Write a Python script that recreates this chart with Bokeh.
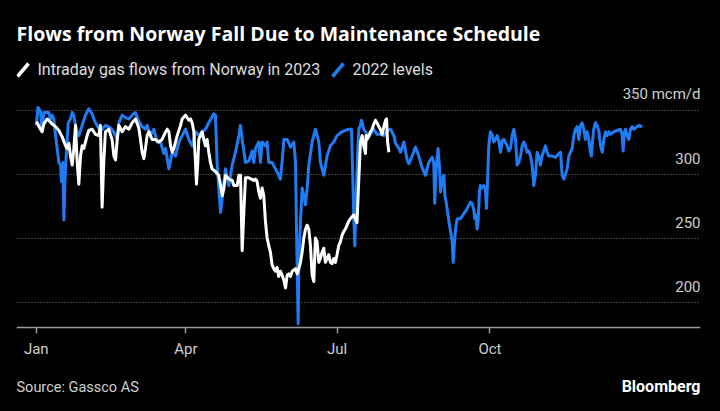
from bokeh.plotting import figure
from bokeh.models import Range1d, FixedTicker, Label, GlobalInlineStyleSheet
from bokeh.embed import file_html
from bokeh.resources import INLINE

# ---- data (day of year, mcm/d) ----
days_2022 = [0, 1, 2.5, 3.5, 4.5, 7.5, 8.5, 9.5, 10.5, 11.6, 13.6, 14.6, 15.2, 16, 16.6, 17.2, 18, 19.2,
             20.6, 21.6, 22.6, 23.6, 24.6, 25.6, 27.6, 29.6, 31.6, 33.6, 34.6, 35.6, 36.6, 38.6, 39.6,
             41.6, 43.6, 45.6, 47.7, 48.7, 49.7, 51.7, 53.7, 55.7, 57.7, 59.7, 61.7, 63.7, 65.7, 66.7,
             68.7, 70.7, 72.7, 74.7, 76.8, 77.8, 79.8, 81.8, 83.8, 85.8, 87.8, 89.8, 91.8, 93.8, 95.8,
             97.8, 99.8, 101.8, 103.8, 106.8, 107.8, 108.8, 109.8, 110.9, 111.9, 112.9, 113.9, 115.9,
             117.9, 119.9, 121.9, 122.9, 123.9, 125.9, 127.9, 129.9, 130.9, 131.9, 133.9, 134.9, 135.9,
             137.9, 138.9, 139.9, 141.9, 143.9, 145.9, 146.9, 147.9, 149, 151, 153, 155, 156, 156.6,
             157.6, 158, 159, 160, 161, 162, 163, 164, 166, 168, 170, 171, 173, 175, 177, 179, 181, 184,
             188, 189.7, 190.5, 191.1, 191.7, 192.5, 193.5, 194.1, 195.1, 195.7, 197.1, 200.1, 203.1,
             205.1, 207.1, 209.2, 211.2, 213.2, 215.2, 216.2, 218.2, 219.2, 221.2, 223.2, 224.2, 226.2,
             228.2, 230.2, 232.2, 234.2, 236.2, 238.2, 239.2, 239.8, 240.6, 241.8, 242.7, 243.3, 244.3,
             245.3, 245.9, 246.7, 248.3, 249.3, 250.3, 250.9, 251.7, 252.3, 253.3, 255.3, 257.3, 259.3,
             261.3, 262.3, 263.3, 263.9, 264.7, 265.3, 265.9, 266.7, 267.3, 268.3, 269.3, 270.3, 270.9,
             271.5, 272.3, 273.3, 274.3, 275.4, 276.4, 277.4, 278.4, 279.4, 280.4, 281.4, 283.4, 284.4,
             285.4, 286.4, 287.4, 288.4, 289.4, 290.4, 291.4, 292.4, 293.4, 294.4, 295.4, 296.4, 297.4,
             298.4, 299.4, 300.4, 301.4, 302.4, 303.4, 304.4, 306.4, 307.4, 308.4, 310.5, 312.5, 314.5,
             315.5, 316.5, 317.5, 319.5, 320.5, 322.5, 323.5, 324.5, 325.5, 326.5, 327.5, 328.5, 329.5,
             330.5, 331.5, 332.5, 333.5, 334.1, 334.7, 335.5, 336.5, 337.5, 338.6, 339.6, 340.6, 341.6,
             342.6, 343.6, 344.6, 345.6, 347.6, 349.6, 351.6, 352.6, 353.2, 354, 354.6, 355.6, 356.6,
             357.6, 358.6, 359.6, 361.6, 362.6, 363.6, 364.6]
flows_2022 = [338, 352, 349, 333, 348, 348, 343, 346, 343, 330, 309, 307, 294, 309, 264, 294, 314, 340,
              343, 348, 346, 338, 333, 330, 338, 346, 351, 347, 343, 340, 338, 333, 335,
              338, 337, 335, 330, 327, 340, 346, 344, 343, 346, 348, 341, 337, 335, 338,
              330, 335, 325, 325, 316, 320, 304, 317, 314, 325, 330, 335, 327, 322, 333,
              330, 333, 335, 340, 347, 346, 309, 289, 270, 281, 294, 304, 291,
              307, 317, 330, 338, 327, 309, 310, 318, 309, 320, 325, 309, 325,
              322, 325, 309, 309, 304, 299, 296, 309, 327, 327, 321, 325, 309, 257,
              183, 231, 263, 289, 283, 276, 289, 307, 325, 335, 325, 309, 299, 314, 322, 325, 330, 333,
              335, 335, 296, 265, 244, 283, 320, 335, 338, 342, 335, 329, 335,
              331, 331, 330, 334, 335, 330, 324, 320, 317, 325, 311, 308, 314,
              321, 314, 305, 299, 309, 313, 309, 277, 304, 320, 304, 286, 296,
              299, 283, 278, 263, 255, 247, 231, 247, 257, 265, 265, 269, 273,
              278, 277, 272, 265, 268, 257, 263, 286, 291, 289, 291, 289, 273,
              291, 322, 333, 331, 325, 327, 330, 325, 317, 326, 327, 322, 318,
              320, 330, 335, 327, 307, 309, 314, 322, 325, 322, 317, 318, 314,
              307, 291, 299, 317, 314, 307, 314, 322, 317, 314, 314, 313, 316,
              317, 299, 296, 304, 314, 320, 330, 335, 337, 327, 338, 340, 335,
              327, 333, 327, 317, 314, 325, 335, 340, 338, 333, 322, 317, 327,
              333, 330, 333, 331, 333, 334, 335, 330, 318, 333, 335, 330, 327,
              335, 337, 335, 337, 338, 337, 338]

days_2023 = [0, 0.5, 2.5, 3.5, 4.5, 6.5, 7.5, 9.5, 11.6, 13.6, 15.6, 17.6, 18.6, 19.6, 20.6, 21.6, 22.6,
             23.6, 24.6, 25.6, 26.6, 27.6, 28.6, 29.6, 30.6, 31.6, 33.6, 35.6, 37.6, 38.6, 39.6, 40.6,
             41.6, 43.6, 45.6, 46.7, 47.7, 48.7, 49.7, 51.7, 53.7, 55.7, 57.7, 59.7, 61.7, 62.7, 63.7,
             64.7, 65.7, 66.7, 67.7, 69.7, 71.7, 73.7, 75.7, 77.8, 78.8, 79.8, 80.8, 81.8, 82.8, 84.8,
             86.8, 87.8, 89.8, 91.8, 92.8, 93.8, 94.8, 95.8, 96.4, 97.2, 97.8, 99.8, 100.8, 101.8, 102.8,
             103.8, 104.8, 105.8, 107.8, 109.8, 110.9, 111.9, 112.9, 113.9, 115.9, 117.9, 118.9, 120.9,
             121.9, 122.9, 123.9, 124.9, 125.9, 127.9, 130.9, 131.9, 132.9, 133.9, 134.9, 135.9, 136.9,
             137.9, 138.9, 139.9, 140.9, 141.9, 142.9, 143.9, 144.9, 145.9, 146.9, 147.9, 149, 150, 151,
             152, 153, 154, 155, 156, 157, 158, 159, 160, 161, 162, 163, 164, 165, 166, 167, 168, 169,
             170, 171, 172, 173, 174, 175, 176, 177, 178, 179, 180, 181, 182, 183, 184, 185, 186, 188,
             189, 191, 193, 194.1, 195.1, 196.1, 197.1, 198.1, 198.5, 199.1, 200.1, 201.1, 202.1, 203.1,
             204.1, 205.1, 206.1, 207.1, 208.1, 209.2, 210.2, 210.8, 211.4, 212.2]
flows_2023 = [339, 340, 335, 333, 339, 343, 342, 339, 337, 334, 329, 322, 320, 324, 314, 307, 320,
              338, 309, 292, 314, 322, 320, 325, 330, 334, 335, 331, 330, 338, 274, 309,
              333, 335, 327, 314, 311, 327, 338, 333, 337, 335, 340, 343, 336, 327, 317,
              312, 320, 330, 333, 327, 327, 325, 327, 333, 335, 333, 322, 317, 320, 330,
              338, 343, 346, 342, 343, 340, 333, 309, 292, 309, 327, 333, 327, 322, 327,
              317, 309, 304, 302, 299, 291, 283, 289, 299, 296, 295, 291, 291,
              299, 299, 240, 270, 297, 297, 295, 296, 294, 286, 281, 289, 283,
              263, 250, 244, 239, 229, 226, 224, 227, 220, 224, 221, 217, 211, 221,
              222, 220, 224, 225, 226, 222, 226, 231, 239, 250, 257, 260, 257, 244, 221, 216, 250, 247,
              231, 234, 239, 242, 231, 234, 237, 231, 230, 234, 231, 237, 244, 247, 252, 255, 257, 263,
              265, 268, 262, 296, 325, 330, 322, 316, 330, 327, 330, 333, 335, 339,
              342, 340, 337, 335, 331, 337, 342, 343, 325, 317]

month_ticks = [0, 90, 181, 273]
month_labels = ["Jan", "Apr", "Jul", "Oct"]
y_ticks = [200, 250, 300, 350]
y_unit = "mcm/d"

title_text = "Flows from Norway Fall Due to Maintenance Schedule"
legend_labels = ["Intraday gas flows from Norway in 2023", "2022 levels"]
source_text = "Source: Gassco AS"
brand_text = "Bloomberg"

BLUE = "#1f7cf4"
WHITE = "#ffffff"
GREY_TEXT = "#cfcfcf"
FONT = "Roboto"

W, H = 720, 411
FL, FR = 16, 700            # frame left / right in page pixels
X_PER_PX = 1 / 1.6616       # days per pixel
JAN_PX = 35.8               # pixel of day 0
Y_PER_PX = 1 / 1.28         # mcm/d per pixel
Y350_PX = 109.5             # pixel of 350 gridline
AXIS_PX = 327.3

def px_x(px):
    return (px - JAN_PX) * X_PER_PX

def px_y(py):
    return 350 - (py - Y350_PX) * Y_PER_PX

X0, X1 = px_x(FL), px_x(FR)
Y0, Y1 = px_y(H), px_y(0)

p = figure(width=W, height=H, output_backend="svg", toolbar_location=None,
           x_range=Range1d(X0, X1), y_range=Range1d(Y0, Y1), title=None,
           min_border_left=FL, min_border_right=W - FR, min_border_top=0, min_border_bottom=0,
           background_fill_color="black", border_fill_color="black", outline_line_color=None)
p.stylesheets = [GlobalInlineStyleSheet(css="html, body { background: #000000; overflow: hidden; }")]

# grid
p.yaxis.visible = False
p.yaxis.ticker = FixedTicker(ticks=y_ticks)
p.ygrid.ticker = FixedTicker(ticks=y_ticks)
p.ygrid.grid_line_color = "#7a7a7a"
p.ygrid.grid_line_dash = "1 2"
p.ygrid.grid_line_width = 1
p.xgrid.visible = False

# x axis, fixed inside the frame
p.xaxis.fixed_location = px_y(AXIS_PX)
p.xaxis.ticker = FixedTicker(ticks=month_ticks)
p.xaxis.major_label_overrides = dict(zip(month_ticks, month_labels))
p.xaxis.axis_line_color = "#9a9a9a"
p.xaxis.axis_line_width = 1.5
p.xaxis.major_tick_line_color = "#9a9a9a"
p.xaxis.major_tick_line_width = 1.5
p.xaxis.major_tick_out = 6
p.xaxis.major_tick_in = 0
p.xaxis.minor_tick_line_color = None
p.xaxis.major_label_text_color = GREY_TEXT
p.xaxis.major_label_text_font = FONT
p.xaxis.major_label_text_font_size = "15px"
p.xaxis.major_label_standoff = 6

# lines
p.line(days_2022, flows_2022, line_color=BLUE, line_width=3, line_join="round")
p.line(days_2023, flows_2023, line_color=WHITE, line_width=3, line_join="round")

# y labels (inside, right-aligned, above gridlines)
for t in y_ticks:
    txt = f"{t} {y_unit}" if t == max(y_ticks) else f"{t}"
    p.add_layout(Label(x=X1, y=t, text=txt, text_align="right", text_baseline="middle",
                       y_offset=16, text_color=GREY_TEXT, text_font=FONT, text_font_size="15px"))

# title
p.add_layout(Label(x=px_x(16), y=px_y(33), text=title_text, text_color=WHITE, text_font="Open Sans",
                   text_font_style="bold", text_font_size="19.5px", text_baseline="middle"))
# legend
p.line([px_x(17), px_x(28)], [px_y(76), px_y(63)], line_color=WHITE, line_width=3.5)
p.add_layout(Label(x=px_x(37), y=px_y(69), text=legend_labels[0], text_color="#dddddd",
                   text_font=FONT, text_font_size="16px", text_baseline="middle"))
p.line([px_x(332), px_x(343)], [px_y(76), px_y(63)], line_color=BLUE, line_width=3.5)
p.add_layout(Label(x=px_x(352), y=px_y(69), text=legend_labels[1], text_color="#dddddd",
                   text_font=FONT, text_font_size="16px", text_baseline="middle"))
# footer
p.add_layout(Label(x=px_x(16), y=px_y(387), text=source_text, text_color=GREY_TEXT,
                   text_font=FONT, text_font_size="14.5px", text_baseline="middle"))
p.add_layout(Label(x=px_x(700), y=px_y(385.5), text=brand_text, text_align="right",
                   text_color=WHITE, text_font=FONT, text_font_style="bold", text_font_size="16px",
                   text_baseline="middle"))

open("out.html", "w").write(file_html(p, INLINE))
